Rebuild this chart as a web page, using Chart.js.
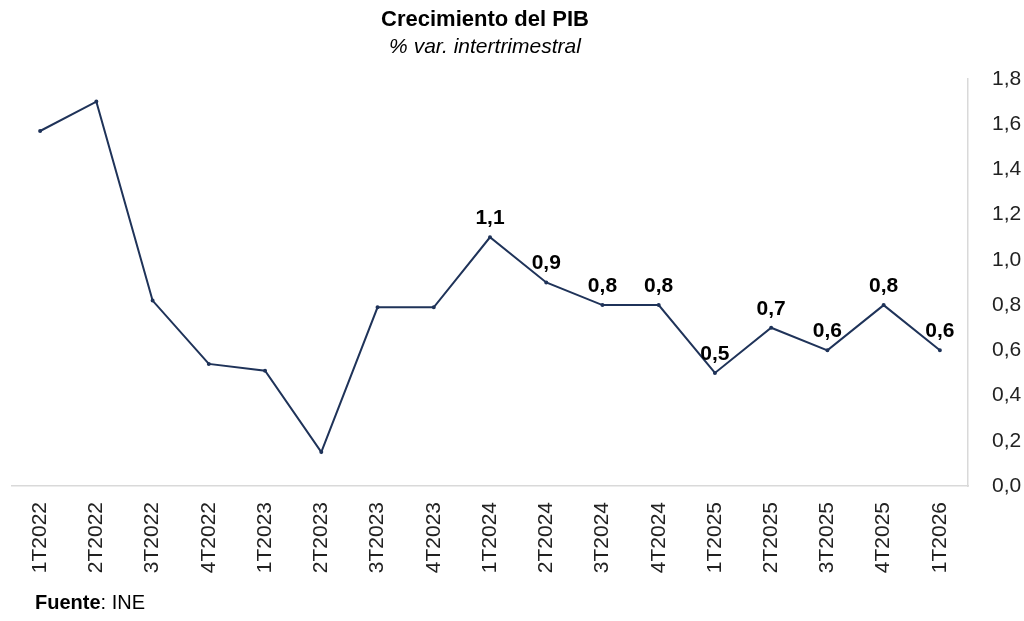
<!DOCTYPE html>
<html lang="es">
<head>
<meta charset="utf-8">
<title>Crecimiento del PIB</title>
<script src="https://cdn.jsdelivr.net/npm/chart.js@4.4.1/dist/chart.umd.min.js"></script>
<style>
  html, body { margin: 0; padding: 0; background: #fff; }
</style>
</head>
<body>
<canvas id="pib-chart" width="1024" height="621"></canvas>
<script>
// Datos: % var. intertrimestral del PIB (INE)
const quarters = ['1T2022', '2T2022', '3T2022', '4T2022', '1T2023', '2T2023', '3T2023', '4T2023',
                  '1T2024', '2T2024', '3T2024', '4T2024', '1T2025', '2T2025', '3T2025', '4T2025', '1T2026'];
const growth = [1.57, 1.70, 0.82, 0.54, 0.51, 0.15, 0.79, 0.79,
                1.1, 0.9, 0.8, 0.8, 0.5, 0.7, 0.6, 0.8, 0.6];
const labelledFrom = 8; // etiquetas de valor desde 1T2024
const yMin = 0;
const yMax = 1.8;
const yStep = 0.2;

const FONT = '"Liberation Sans", Arial, sans-serif';
const LINE_COLOR = '#1f3359';

const fmt = v => v.toFixed(1).replace('.', ',');

// titulo, subtitulo, etiquetas de datos y fuente
const extras = {
  id: 'extras',
  afterDatasetsDraw(chart) {
    const { ctx, chartArea } = chart;
    const meta = chart.getDatasetMeta(0);
    const cx = (chartArea.left + chartArea.right) / 2;
    ctx.save();
    ctx.fillStyle = '#000';
    ctx.textBaseline = 'middle';

    ctx.textAlign = 'center';
    ctx.font = 'bold 21px ' + FONT;
    meta.data.forEach((pt, i) => {
      if (i < labelledFrom) return;
      ctx.fillText(fmt(growth[i]), pt.x, pt.y - 19);
    });

    ctx.font = 'bold 22px ' + FONT;
    ctx.fillText('Crecimiento del PIB', cx - 5, 20);
    ctx.font = 'italic 21px ' + FONT;
    ctx.fillText('% var. intertrimestral', cx - 5, 47);

    ctx.textAlign = 'left';
    ctx.font = 'bold 20px ' + FONT;
    ctx.fillText('Fuente', 35, 603);
    const w = ctx.measureText('Fuente').width;
    ctx.font = '20px ' + FONT;
    ctx.fillText(': INE', 35 + w, 603);
    ctx.restore();
  }
};

new Chart(document.getElementById('pib-chart').getContext('2d'), {
  type: 'line',
  data: {
    labels: quarters,
    datasets: [{
      data: growth,
      borderColor: LINE_COLOR,
      backgroundColor: LINE_COLOR,
      borderWidth: 2,
      pointRadius: 1,
      pointHoverRadius: 1,
      tension: 0
    }]
  },
  options: {
    responsive: false,
    animation: false,
    layout: { padding: { top: 79, left: 12, right: 0, bottom: 0 } },
    plugins: {
      legend: { display: false },
      tooltip: { enabled: false }
    },
    scales: {
      x: {
        offset: true,
        grid: { display: false, drawTicks: false },
        border: { display: true, color: '#d9d9d9', width: 1.5 },
        ticks: {
          color: '#222',
          font: { family: FONT, size: 21 },
          minRotation: 90,
          maxRotation: 90,
          padding: 16,
          autoSkip: false
        },
        afterFit(scale) { scale.height = 135; }
      },
      y: {
        position: 'right',
        min: yMin,
        max: yMax,
        grid: { display: false, drawTicks: false },
        border: { display: true, color: '#d9d9d9', width: 1.5 },
        ticks: {
          stepSize: yStep,
          color: '#222',
          font: { family: FONT, size: 21 },
          padding: 24,
          callback: v => fmt(v)
        },
        afterFit(scale) { scale.width = 56; }
      }
    }
  },
  plugins: [extras]
});
</script>
</body>
</html>
